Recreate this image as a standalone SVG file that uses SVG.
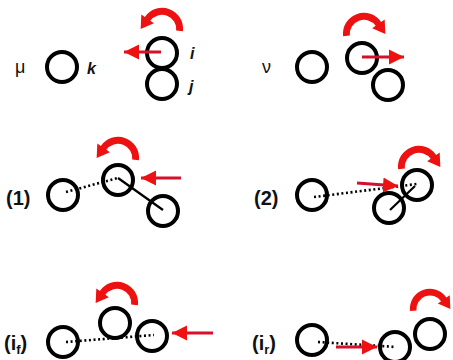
<svg xmlns="http://www.w3.org/2000/svg" xmlns:xlink="http://www.w3.org/1999/xlink" width="453" height="360" viewBox="0 0 453 360">
<style>
.c{fill:none;stroke:#000;stroke-width:4}
.dot{stroke:#000;stroke-width:2.6;stroke-dasharray:2 2.6;fill:none}
.bond{stroke:#000;stroke-width:2.2;fill:none}
.push{stroke:#d4102c;stroke-width:2.8;fill:none;marker-end:url(#ah)}
.rot{fill:#ee1111}
.lbl{font-family:"Liberation Sans",Arial,sans-serif;font-weight:bold;font-size:20px;fill:#111}
.gr{font-family:"Liberation Sans",Arial,sans-serif;font-size:18px;fill:#111}
.it{font-family:"Liberation Sans",Arial,sans-serif;font-weight:bold;font-style:italic;font-size:16px;fill:#111}
</style>
<defs>
<marker id="ah" markerUnits="userSpaceOnUse" markerWidth="16" markerHeight="16" refX="15" refY="8" orient="auto">
<path d="M0,0.5 L15,8 L0,15.5 Z" fill="#ee1111"/>
</marker>
<path id="ccw" class="rot" d="M19,2 A19,19 0 0 0 -15.6,-10.9 L-18.8,-13.2 L-19.4,0 L-7.4,-5.2 L-10.6,-7.5 A13,13 0 0 1 12.9,1.4 Z"/>
</defs>

<g id="panel-mu">
<text class="gr" x="15" y="73">μ</text>
<g id="mu-k"><circle class="c" cx="62" cy="67" r="15"/><text class="it" x="87" y="74">k</text></g>
<g id="mu-i"><circle class="c" cx="162" cy="53" r="15"/><text class="it" x="190" y="59">i</text></g>
<g id="mu-j"><circle class="c" cx="162" cy="84" r="15"/><text class="it" x="189" y="92">j</text></g>
</g>

<g id="panel-nu">
<text class="gr" x="262" y="73">ν</text>
<g id="nu-k"><circle class="c" cx="312" cy="67" r="15"/></g>
<g id="nu-i"><circle class="c" cx="362" cy="58" r="15"/></g>
<g id="nu-j"><circle class="c" cx="388" cy="85" r="15"/></g>
</g>

<g id="panel-1">
<text class="lbl" x="6" y="205">(1)</text>
<g id="p1-a"><circle class="c" cx="63" cy="195" r="15"/></g>
<g id="p1-b"><circle class="c" cx="118" cy="180" r="15"/></g>
<g id="p1-c"><circle class="c" cx="163" cy="211" r="15"/></g>
</g>

<g id="panel-2">
<text class="lbl" x="254" y="205">(2)</text>
<g id="p2-a"><circle class="c" cx="312" cy="195" r="15"/></g>
<g id="p2-b"><circle class="c" cx="417" cy="185" r="15"/></g>
<g id="p2-c"><circle class="c" cx="389" cy="208" r="15"/></g>
</g>

<g id="panel-if">
<text class="lbl" x="4" y="350">(i<tspan font-size="13" dy="4">f</tspan><tspan dy="-4">)</tspan></text>
<g id="if-a"><circle class="c" cx="63" cy="342" r="15"/></g>
<g id="if-b"><circle class="c" cx="115" cy="323" r="15"/></g>
<g id="if-c"><circle class="c" cx="152" cy="336" r="15"/></g>
</g>

<g id="panel-ir">
<text class="lbl" x="252" y="350">(i<tspan font-size="13" dy="4">r</tspan><tspan dy="-4">)</tspan></text>
<g id="ir-a"><circle class="c" cx="312" cy="340" r="15"/></g>
<g id="ir-b"><circle class="c" cx="395" cy="347" r="15"/></g>
<g id="ir-c"><circle class="c" cx="430" cy="334" r="15"/></g>
</g>

<g id="connectors">
<line class="dot" x1="66" y1="192" x2="118" y2="178"/>
<line class="bond" x1="118" y1="178" x2="163" y2="210"/>
<line class="dot" x1="314" y1="197" x2="417" y2="184"/>
<line class="bond" x1="390" y1="210" x2="415" y2="186"/>
<line class="dot" x1="66" y1="342" x2="154" y2="335"/>
<line class="dot" x1="318" y1="342" x2="396" y2="347"/>

<line class="push" x1="161" y1="52" x2="124" y2="52"/>
<line class="push" x1="362" y1="57" x2="404" y2="57"/>
<line class="push" x1="181" y1="178" x2="141" y2="178"/>
<line class="push" x1="357" y1="183" x2="398" y2="186"/>
<line class="push" x1="213" y1="333" x2="172" y2="333"/>
<line class="push" x1="336" y1="347" x2="377" y2="347"/>

<use xlink:href="#ccw" transform="translate(162,29) scale(1.1)"/>
<use xlink:href="#ccw" transform="translate(364,34) scale(-1.1,1.1)"/>
<use xlink:href="#ccw" transform="translate(118,158) scale(1.1)"/>
<use xlink:href="#ccw" transform="translate(419,167) scale(-1.1,1.1)"/>
<use xlink:href="#ccw" transform="translate(117,303) scale(1.1)"/>
<use xlink:href="#ccw" transform="translate(430,309) scale(-1.05,1.05)"/>
</g>
</svg>
